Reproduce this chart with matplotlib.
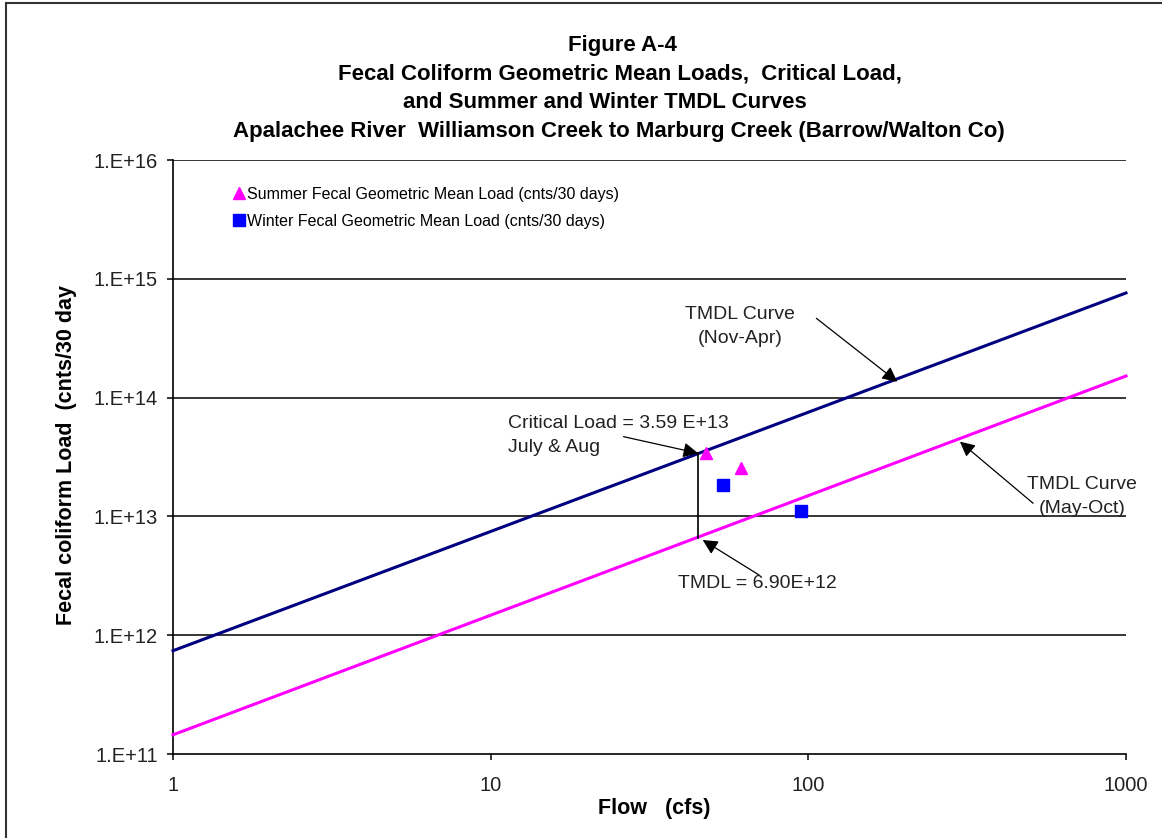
import matplotlib
matplotlib.use("Agg")
import matplotlib.pyplot as plt
from matplotlib.lines import Line2D

plt.rcParams['font.family'] = ['Liberation Sans', 'DejaVu Sans']

# ---- data ----
title_lines = ["Figure A-4",
               "Fecal Coliform Geometric Mean Loads,  Critical Load,",
               "and Summer and Winter TMDL Curves",
               "Apalachee River  Williamson Creek to Marburg Creek (Barrow/Walton Co)"]
curve_flow = [1, 1000]
winter_tmdl = [7.4e11, 7.6e14]     # TMDL Curve (Nov-Apr)
summer_tmdl = [1.45e11, 1.52e14]   # TMDL Curve (May-Oct)
summer_flow = [47.6, 61.4]
summer_load = [3.45e13, 2.55e13]
winter_flow = [54.0, 94.8]
winter_load = [1.84e13, 1.10e13]
crit_flow = [45.0, 45.0]
crit_seg = [6.6e12, 3.42e13]
x_ticks = [1, 10, 100, 1000]
x_ticklabels = ["1", "10", "100", "1000"]
y_ticks = [1e11, 1e12, 1e13, 1e14, 1e15, 1e16]
y_ticklabels = ["1.E+11", "1.E+12", "1.E+13", "1.E+14", "1.E+15", "1.E+16"]

W, H = 1162, 838
fig = plt.figure(figsize=(W / 100, H / 100), dpi=100)
fig.patch.set_facecolor('white')

# outer chart border (left and top edges visible)
fig.add_artist(Line2D([6 / W, 6 / W], [0, 1 - 3 / H], transform=fig.transFigure,
                      color='#333333', lw=1.5))
fig.add_artist(Line2D([6 / W, 1], [1 - 3 / H, 1 - 3 / H], transform=fig.transFigure,
                      color='#333333', lw=1.5))

x0, x1 = 173, 1126
y0, y1 = 160, 754
ax = fig.add_axes([x0 / W, 1 - y1 / H, (x1 - x0) / W, (y1 - y0) / H])
ax.set_xscale('log')
ax.set_yscale('log')
ax.set_xlim(1, 1000)
ax.set_ylim(1e11, 1e16)

for s in ['top', 'right']:
    ax.spines[s].set_visible(False)
for s in ['left', 'bottom']:
    ax.spines[s].set_linewidth(1.2)
    ax.spines[s].set_color('black')

for yt in y_ticks[1:]:
    ax.axhline(yt, color='black', lw=1.1, zorder=1)

ax.set_xticks(x_ticks)
ax.set_xticklabels(x_ticklabels)
ax.set_yticks(y_ticks)
ax.set_yticklabels(y_ticklabels)
ax.minorticks_off()
ax.tick_params(axis='x', direction='out', length=4, width=1.1, pad=12, labelsize=14.5)
ax.tick_params(axis='y', direction='out', length=4, width=1.1, pad=7, labelsize=14.5)
for lab in ax.get_xticklabels() + ax.get_yticklabels():
    lab.set_color('#222222')

ax.plot(curve_flow, winter_tmdl, color='#000080', lw=2.2, zorder=3, clip_on=False)
ax.plot(curve_flow, summer_tmdl, color='#FF00FF', lw=2.2, zorder=3, clip_on=False)
ax.plot(crit_flow, crit_seg, color='black', lw=1.2, zorder=4)

ax.plot(summer_flow, summer_load, linestyle='none', marker='^', color='#FF00FF',
        markersize=9, zorder=5, label='Summer Fecal Geometric Mean Load (cnts/30 days)')
ax.plot(winter_flow, winter_load, linestyle='none', marker='s', color='#0000FF',
        markersize=8, zorder=5, label='Winter Fecal Geometric Mean Load (cnts/30 days)')

leg = ax.legend(loc='upper left', bbox_to_anchor=(0.058, 0.966), frameon=False,
                fontsize=11.5, handlelength=0.6, handletextpad=0.15,
                labelspacing=0.75, borderaxespad=0)

arrowprops = dict(arrowstyle='-|>,head_length=0.9,head_width=0.45', color='black',
                  lw=0.9, shrinkA=0, shrinkB=0)

ax.annotate("", xy=(45.0, 3.40e13), xytext=(26.2, 4.69e13), arrowprops=arrowprops, zorder=6)
ax.text(11.3, 7.2e13, "Critical Load = 3.59 E+13\nJuly & Aug", fontsize=14,
        ha='left', va='top', linespacing=1.55, color='#222222')

ax.annotate("", xy=(46.5, 6.33e12), xytext=(70.0, 3.21e12), arrowprops=arrowprops, zorder=6)
ax.text(38.9, 2.75e12, "TMDL = 6.90E+12", fontsize=14, ha='left', va='center',
        color='#222222')

ax.annotate("", xy=(190.5, 1.36e14), xytext=(106, 4.65e14), arrowprops=arrowprops, zorder=6)
ax.text(61, 4.0e14, "TMDL Curve\n(Nov-Apr)", fontsize=14, ha='center', va='center',
        linespacing=1.55, color='#222222')

ax.annotate("", xy=(300, 4.26e13), xytext=(510, 1.29e13), arrowprops=arrowprops, zorder=6)
ax.text(726, 1.46e13, "TMDL Curve\n(May-Oct)", fontsize=14, ha='center', va='center',
        linespacing=1.55, color='#222222')

# title lines
title_x = [622, 620, 605, 619]
title_y = [46, 74, 102, 131]
for txt, tx, ty in zip(title_lines, title_x, title_y):
    fig.text(tx / W, 1 - ty / H, txt, ha='center', va='center', fontsize=16,
             fontweight='bold')

fig.text(654 / W, 1 - 808 / H, "Flow   (cfs)", ha='center', va='center',
         fontsize=15.5, fontweight='bold')
fig.text(67 / W, 1 - 455 / H, "Fecal coliform Load  (cnts/30 day", ha='center',
         va='center', rotation=90, fontsize=15.5, fontweight='bold')

fig.savefig("out.png", dpi=100)
